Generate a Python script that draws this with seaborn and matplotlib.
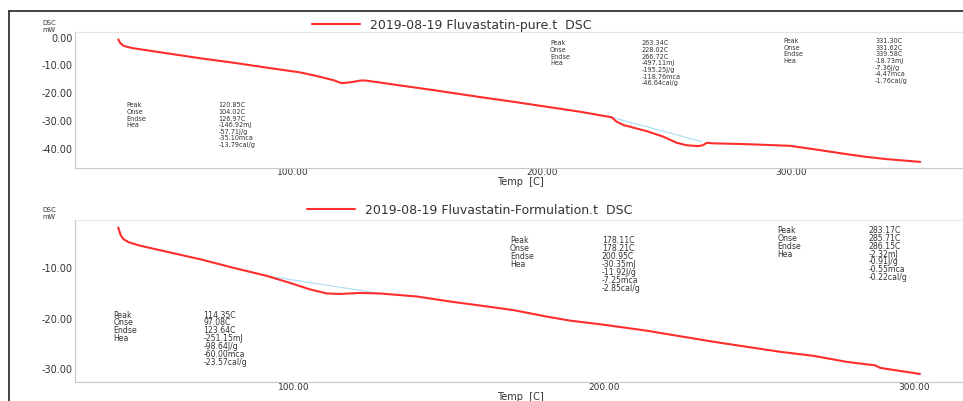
import matplotlib
matplotlib.use("Agg")
import matplotlib.pyplot as plt
from matplotlib.lines import Line2D
from matplotlib.ticker import MultipleLocator, FormatStrFormatter, NullFormatter
import seaborn as sns

# ---- thermogram data (Temp in C, heat flow in mW) ----
pure_temp = [30.0, 30.7, 32.0, 34.0, 36.0, 49.4, 62.8, 76.1, 89.6, 102.9, 109.6,
             116.3, 119.7, 123.0, 127.7, 129.7, 143.1, 156.5, 175.2, 188.6, 202.0,
             215.4, 228.1, 230.1, 232.8, 242.2, 248.8, 254.2, 258.2, 262.9, 264.7,
             266.3, 268.9, 282.3, 299.7, 309.1, 322.5, 330.5, 338.6, 352.0]
pure_dsc = [-0.6, -1.8, -2.9, -3.4, -3.8, -5.6, -7.4, -9.0, -10.8, -12.5, -13.8,
            -15.3, -16.4, -16.1, -15.4, -15.5, -17.2, -18.9, -21.4, -23.1, -24.9,
            -26.7, -28.7, -30.3, -31.5, -33.7, -35.7, -37.9, -38.8, -39.1, -38.8,
            -37.9, -38.1, -38.4, -39.0, -40.2, -42.0, -43.0, -43.8, -44.8]
pure_base_temp = [228.1, 264.3]
pure_base_dsc = [-28.7, -37.5]

form_temp = [43.6, 44.4, 45.3, 46.9, 50.6, 59.2, 70.0, 80.7, 91.4, 98.9, 105.4,
             110.8, 115.0, 121.5, 127.9, 139.7, 150.5, 160.1, 170.8, 181.6, 189.1,
             199.8, 213.8, 224.5, 235.3, 246.0, 256.8, 267.5, 278.2, 287.4, 289.0,
             301.8]
form_dsc = [-1.9, -3.4, -4.2, -4.8, -5.5, -6.7, -8.2, -9.9, -11.5, -12.9, -14.2,
            -15.0, -15.1, -14.9, -15.0, -15.6, -16.6, -17.4, -18.3, -19.6, -20.4,
            -21.2, -22.4, -23.5, -24.6, -25.6, -26.6, -27.4, -28.6, -29.3, -29.8,
            -31.0]
form_base_temp = [89.3, 126.9]
form_base_dsc = [-11.3, -14.9]

pure_label = "2019-08-19 Fluvastatin-pure.t  DSC"
form_label = "2019-08-19 Fluvastatin-Formulation.t  DSC"

row_names = ["Peak", "Onse", "Endse", "Hea"]
pure_peaks = [
    ["120.85C", "104.02C", "126.97C", "-146.92mJ", "-57.71J/g", "-35.10mca", "-13.79cal/g"],
    ["263.34C", "228.02C", "266.72C", "-497.11mJ", "-195.25J/g", "-118.76mca", "-46.64cal/g"],
    ["331.30C", "331.62C", "339.58C", "-18.73mJ", "-7.36J/g", "-4.47mca", "-1.76cal/g"],
]
form_peaks = [
    ["114.35C", "97.08C", "123.64C", "-251.15mJ", "-98.64J/g", "-60.00mca", "-23.57cal/g"],
    ["178.11C", "178.21C", "200.95C", "-30.35mJ", "-11.92J/g", "-7.25mca", "-2.85cal/g"],
    ["283.17C", "285.71C", "286.15C", "-2.32mJ", "-0.91J/g", "-0.55mca", "-0.22cal/g"],
]

# ---- styling ----
sns.set_style("white")
plt.rcParams["font.family"] = ["DejaVu Sans"]
W, H = 963, 401
RED = "#ff2d2d"
BLUE = "#a9dcf2"
TXT = "#333333"
AX = "#c8c8c8"

fig = plt.figure(figsize=(W / 100, H / 100), dpi=100)


def fx(px):
    return px / W


def fy(py):
    return 1 - py / H


def panel(left, top, right, bottom, xlim, ylim):
    ax = fig.add_axes([fx(left), fy(bottom), (right - left) / W, (bottom - top) / H])
    ax.set_xlim(*xlim)
    ax.set_ylim(*ylim)
    for s in ("left", "bottom"):
        ax.spines[s].set_color(AX)
        ax.spines[s].set_linewidth(0.8)
    ax.spines["top"].set_color("#e4e4e4")
    ax.spines["top"].set_linewidth(0.8)
    ax.spines["right"].set_visible(False)
    ax.xaxis.set_major_locator(MultipleLocator(100))
    ax.xaxis.set_minor_locator(MultipleLocator(20))
    ax.yaxis.set_major_locator(MultipleLocator(10))
    ax.yaxis.set_minor_locator(MultipleLocator(2))
    ax.xaxis.set_major_formatter(FormatStrFormatter("%.2f"))
    ax.yaxis.set_major_formatter(FormatStrFormatter("%.2f"))
    ax.xaxis.set_minor_formatter(NullFormatter())
    ax.tick_params(axis="both", which="major", direction="in", length=4, width=0.6,
                   color=AX, labelcolor=TXT, pad=1.5)
    ax.tick_params(axis="both", which="minor", direction="in", length=2.5, width=0.6,
                   color=AX)
    ax.tick_params(axis="y", which="major", labelsize=7)
    ax.tick_params(axis="x", which="major", labelsize=6.5, pad=0.3)
    return ax


def draw_panel(ax, temp, dsc, btemp, bdsc, label, lx, ly, xlab_y):
    sns.lineplot(x=btemp, y=bdsc, ax=ax, color=BLUE, lw=0.8, sort=False,
                 estimator=None, legend=False)
    sns.lineplot(x=temp, y=dsc, ax=ax, color=RED, lw=1.5, sort=False,
                 estimator=None, label=label)
    ax.legend(loc="center left", bbox_to_anchor=(fx(lx), fy(ly)),
              bbox_transform=fig.transFigure, frameon=False, borderaxespad=0,
              borderpad=0, handlelength=3.9, handletextpad=0.8, fontsize=9,
              labelcolor=TXT)
    ax.set_xlabel("Temp  [C]", fontsize=7, color=TXT)
    ax.set_ylabel("")
    ax.xaxis.set_label_coords(0.498, xlab_y)
    ax.xaxis.label.set_verticalalignment("top")


def peak_block(values, lab_x, val_x, y0, step, size):
    # one text per row: name column and value column
    for i, val in enumerate(values):
        y = fy(y0 + i * step)
        if i < len(row_names):
            fig.text(fx(lab_x), y, row_names[i], fontsize=size, color=TXT, va="center")
        fig.text(fx(val_x), y, val, fontsize=size, color=TXT, va="center")


def unit_label(y_dsc, y_mw):
    fig.text(fx(42), fy(y_dsc), "DSC", fontsize=4.8, color=TXT, va="center")
    fig.text(fx(42), fy(y_mw), "mW", fontsize=4.8, color=TXT, va="center")


# top panel: pure drug
ax1 = panel(75, 32, 970, 168, (12.6, 372.0), (-47.0, 2.06))
draw_panel(ax1, pure_temp, pure_dsc, pure_base_temp, pure_base_dsc, pure_label,
           311.7, 25, -0.068)
unit_label(23.0, 29.8)
peak_block(pure_peaks[0], 126.7, 218.3, 105.3, 6.6, 4.7)
peak_block(pure_peaks[1], 550, 641.7, 43.3, 6.7, 4.7)
peak_block(pure_peaks[2], 783.3, 875, 41.3, 6.6, 4.7)

# bottom panel: formulation
ax2 = panel(75, 220, 970, 382.3, (29.7, 317.9), (-32.66, -0.40))
draw_panel(ax2, form_temp, form_dsc, form_base_temp, form_base_dsc, form_label,
           306.7, 210, -0.058)
unit_label(209.8, 216.6)
peak_block(form_peaks[0], 113.3, 203.3, 315, 7.95, 5.6)
peak_block(form_peaks[1], 510, 601.7, 240.7, 7.9, 5.6)
peak_block(form_peaks[2], 777.7, 868.3, 230.7, 7.8, 5.6)

# outer frame
fig.add_artist(Line2D([fx(9), fx(W + 5)], [fy(11), fy(11)], color="#222222", lw=1.2))
fig.add_artist(Line2D([fx(9), fx(9)], [fy(11), fy(H + 5)], color="#222222", lw=1.2))

fig.savefig("out.png", dpi=100)
